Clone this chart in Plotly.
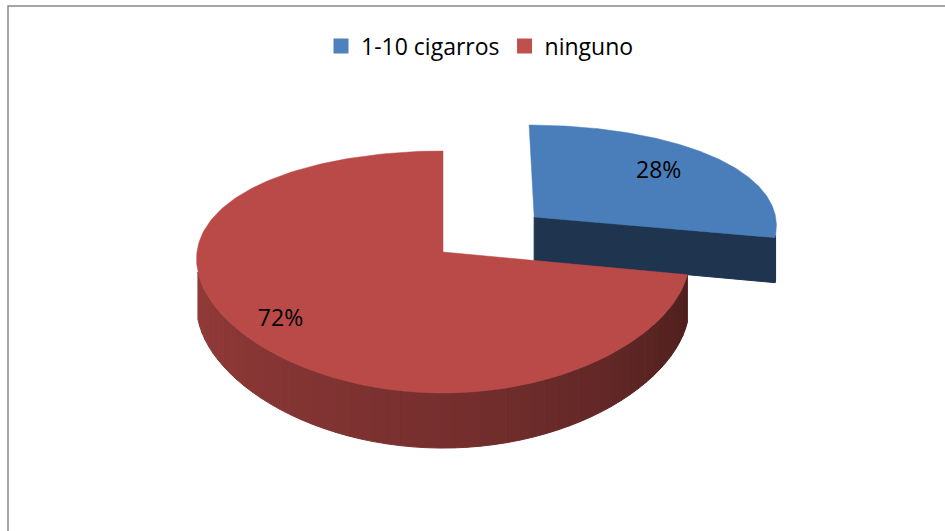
import numpy as np
import plotly.graph_objects as go

# ---- data ----
categories = ["1-10 cigarros", "ninguno"]
values = [28, 72]
explode = [0.49, 0.0]

# ---- style ----
top_colors = [(74, 126, 187), (185, 74, 72)]
legend_colors = ["#4F81BD", "#C0504D"]
label_r = [0.70, 0.83]
CUT_SHADE = 0.42
FONT = "Open Sans"

# projection of a pseudo-3D disk (pixel space)
CX, CY = 443, 252
RX, RY = 246, 117.7
PX, PY = 0.06, 0.165   # perspective strength (x / y)
H = 46                 # thickness


def proj(u, v, down=0.0):
    u = np.asarray(u, dtype=float)
    v = np.asarray(v, dtype=float)
    kx = 1.0 / (1.0 + PX * v)
    ky = 1.0 / (1.0 + PY * v)
    return CX + RX * u * kx, CY - RY * v * ky + H * down * ky


def rgb(c, f=1.0):
    return "rgb(%d,%d,%d)" % tuple(int(round(max(0, min(255, x * f)))) for x in c)


def side_shade(theta):
    return float(np.interp(theta, [95, 180, 265], [0.40, 0.64, 0.80]))


fig = go.Figure()

total = float(sum(values))
sil1 = np.degrees(np.arccos(-PY))
sil2 = 360 - sil1

slices = []
start = 0.0
for i, val in enumerate(values):
    a0 = start
    a1 = start + 360.0 * val / total
    start = a1
    bis = np.radians((a0 + a1) / 2)
    ou, ov = explode[i] * np.sin(bis), explode[i] * np.cos(bis)
    slices.append((i, a0, a1, ou, ov, bis))

# draw exploded (back) slices first
order = sorted(slices, key=lambda s: -s[4])

labels_x, labels_y, labels_t = [], [], []

for (i, a0, a1, ou, ov, bis) in order:
    col = top_colors[i]

    # cut faces that face the viewer
    for a, nrm in ((a0, a0 - 90), (a1, a1 + 90)):
        if np.cos(np.radians(nrm)) < -1e-6:
            r = np.radians(a)
            us = [ou, ou + np.sin(r), ou + np.sin(r), ou]
            vs = [ov, ov + np.cos(r), ov + np.cos(r), ov]
            ds = [0, 0, 1, 1]
            xs, ys = zip(*[proj(u, v, d) for u, v, d in zip(us, vs, ds)])
            c = rgb(col, CUT_SHADE)
            fig.add_trace(go.Scatter(x=list(xs) + [xs[0]], y=list(ys) + [ys[0]],
                                     mode="lines", fill="toself", fillcolor=c,
                                     line=dict(color=c, width=1),
                                     hoverinfo="skip", showlegend=False))

    # outer curved side (visible part)
    s0, s1 = max(a0, sil1), min(a1, sil2)
    if s1 > s0:
        edges = np.linspace(s0, s1, max(2, int((s1 - s0) / 3) + 2))
        for t0, t1 in zip(edges[:-1], edges[1:]):
            th = np.radians(np.linspace(t0, t1, 6))
            u = ou + np.sin(th)
            v = ov + np.cos(th)
            xt, yt = proj(u, v, 0)
            xb, yb = proj(u, v, 1)
            xs = np.concatenate([xt, xb[::-1], xt[:1]])
            ys = np.concatenate([yt, yb[::-1], yt[:1]])
            c = rgb(col, side_shade((t0 + t1) / 2))
            fig.add_trace(go.Scatter(x=xs, y=ys, mode="lines", fill="toself",
                                     fillcolor=c, line=dict(color=c, width=1),
                                     hoverinfo="skip", showlegend=False))

    # top face
    th = np.radians(np.linspace(a0, a1, 200))
    u = np.concatenate([[ou], ou + np.sin(th), [ou]])
    v = np.concatenate([[ov], ov + np.cos(th), [ov]])
    xs, ys = proj(u, v, 0)
    c = rgb(col)
    fig.add_trace(go.Scatter(x=xs, y=ys, mode="lines", fill="toself", fillcolor=c,
                             line=dict(color=c, width=0.5),
                             hoverinfo="skip", showlegend=False))

    lx, ly = proj(ou + label_r[i] * np.sin(bis), ov + label_r[i] * np.cos(bis), 0)
    labels_x.append(float(lx))
    labels_y.append(float(ly))
    labels_t.append("%d%%" % round(100 * values[i] / total))

# percentage labels
fig.add_trace(go.Scatter(x=labels_x, y=labels_y, text=labels_t, mode="text",
                         textfont=dict(family=FONT, size=23, color="black"),
                         hoverinfo="skip", showlegend=False))

# legend entries
for name, lc in zip(categories, legend_colors):
    fig.add_trace(go.Scatter(x=[None], y=[None], mode="markers", name=name,
                             marker=dict(symbol="square", size=15, color=lc)))

fig.update_layout(
    width=945, height=531,
    margin=dict(l=0, r=0, t=0, b=0),
    paper_bgcolor="white", plot_bgcolor="white",
    xaxis=dict(range=[0, 945], visible=False, fixedrange=True),
    yaxis=dict(range=[531, 0], visible=False, fixedrange=True),
    showlegend=True,
    legend=dict(orientation="h", x=480 / 945, xanchor="center", y=1 - 46 / 531,
                yanchor="middle", font=dict(family=FONT, size=23, color="black"),
                itemclick=False, itemdoubleclick=False, bgcolor="rgba(0,0,0,0)"),
    shapes=[dict(type="rect", xref="x", yref="y", x0=8, y0=6, x1=1200, y1=1200,
                 line=dict(color="#888888", width=1.5), layer="above")],
)

fig.write_html("out.html", config={"displayModeBar": False})
